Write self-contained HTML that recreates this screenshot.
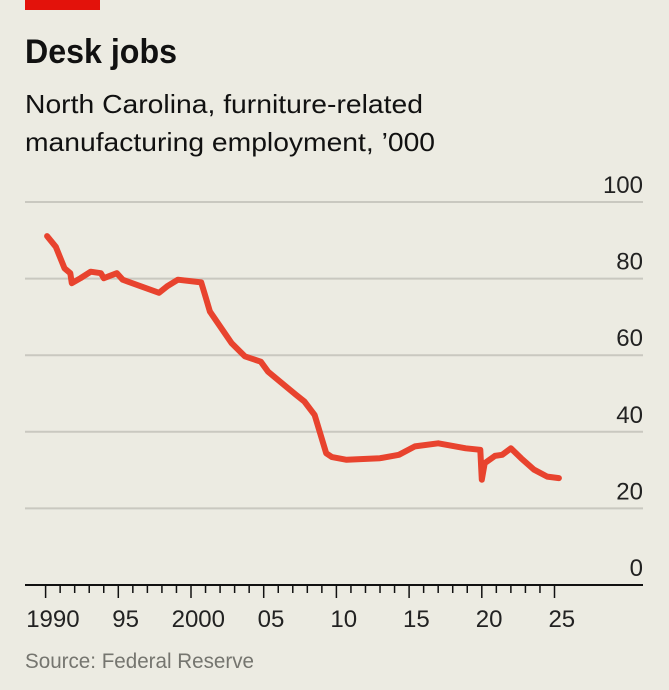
<!DOCTYPE html>
<html><head><meta charset="utf-8"><style>
html,body{margin:0;padding:0;background:#ecebe2;}
svg{display:block;font-family:"Liberation Sans",sans-serif;}
</style></head><body>
<svg id="chart" width="669" height="690" viewBox="0 0 669 690" xmlns="http://www.w3.org/2000/svg">
<rect x="0" y="0" width="669" height="690" fill="#ecebe2"/>
<rect x="25" y="0" width="75" height="10" fill="#e3120b"/>
<text x="25" y="63" font-size="34" font-weight="bold" fill="#111" textLength="152" lengthAdjust="spacingAndGlyphs">Desk jobs</text>
<text x="25" y="113" font-size="26" fill="#111" textLength="398" lengthAdjust="spacingAndGlyphs">North Carolina, furniture-related</text>
<text x="25" y="151" font-size="26" fill="#111" textLength="410" lengthAdjust="spacingAndGlyphs">manufacturing employment, ’000</text>
<g id="grid"></g>
<g id="xaxis"></g>
<g id="series"></g>
<text x="25" y="668" font-size="21" fill="#75756f" textLength="229" lengthAdjust="spacingAndGlyphs">Source: Federal Reserve</text>
</svg>
<script>
const yTicks = [0, 20, 40, 60, 80, 100];
const xLabelYears = [1990, 1995, 2000, 2005, 2010, 2015, 2020, 2025];
const xLabels = ["1990", "95", "2000", "05", "10", "15", "20", "25"];
const years = [1990.1,1990.7,1991.3,1991.7,1991.8,1992.4,1993.1,1993.8,1994.0,1994.9,1995.3,1996.6,1997.8,1998.4,1999.1,2000.7,2001.0,2001.3,2002.8,2003.7,2004.8,2005.3,2007.2,2007.8,2008.5,2009.3,2009.7,2010.7,2013.0,2014.3,2015.4,2017.0,2018.9,2019.9,2020.0,2020.2,2020.9,2021.4,2022.0,2022.7,2023.6,2024.5,2025.3];
const employment = [91.1,88.3,82.7,81.4,78.8,80.1,81.8,81.4,80.1,81.4,79.7,77.9,76.3,78.1,79.7,79.0,75.3,71.4,63.1,59.7,58.3,55.7,49.7,47.9,44.4,34.4,33.4,32.7,33.1,34.0,36.2,37.0,35.7,35.3,27.5,31.8,33.7,34.0,35.7,33.1,30.1,28.3,27.9];

const NS = "http://www.w3.org/2000/svg";
const xScale = y => 45.6 + (y - 1990) * 14.54;
const yScale = v => 585 - v * 3.83;
function mk(tag, attrs, parent){const e=document.createElementNS(NS,tag);for(const k in attrs)e.setAttribute(k,attrs[k]);parent.appendChild(e);return e;}

const grid = document.getElementById('grid');
yTicks.forEach(v=>{
  if(v>0){
    const l=mk('line',{x1:25,x2:643,y1:yScale(v),y2:yScale(v),stroke:'#c9c8c0','stroke-width':2},grid);
    
    
  }
  const t=mk('text',{x:643,y:yScale(v)-9,'text-anchor':'end','font-size':24,fill:'#222'},grid);
  t.textContent=String(v);
  
  
});

const xa = document.getElementById('xaxis');
const ax=mk('line',{x1:25,x2:643,y1:585,y2:585,stroke:'#111','stroke-width':2},xa);


for(let y=1990;y<=2025;y++){
  const major = xLabelYears.includes(y);
  const tk=mk('line',{x1:xScale(y),x2:xScale(y),y1:585,y2:major?598:593,stroke:'#111','stroke-width':1.5},xa);
  
  
}
xLabelYears.forEach((y,i)=>{
  const t=mk('text',{x:xScale(y)+7.3,y:627,'text-anchor':'middle','font-size':24,fill:'#222'},xa);
  t.textContent=xLabels[i];
  
  
});

const s=document.getElementById('series');
const d=years.map((y,i)=>(i?'L':'M')+xScale(y).toFixed(1)+','+yScale(employment[i]).toFixed(1)).join(' ');
const p=mk('path',{d:d,fill:'none',stroke:'#e8432e','stroke-width':6,'stroke-linejoin':'round','stroke-linecap':'round'},s);


</script>
</body></html>
